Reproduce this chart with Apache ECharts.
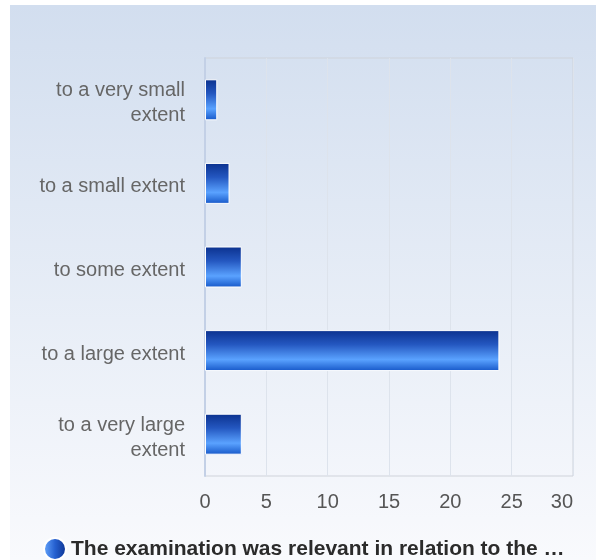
<!DOCTYPE html>
<html><head><meta charset="utf-8">
<script src="https://cdn.jsdelivr.net/npm/echarts@6/dist/echarts.min.js"></script>
<style>html,body{margin:0;padding:0;background:#fff}#c{width:596px;height:560px}</style>
</head><body><div id="c"></div>
<script>
var categories = ['to a very small\nextent', 'to a small extent', 'to some extent', 'to a large extent', 'to a very large\nextent'];
var values = [1, 2, 3, 24, 3];
var xTicks = [0, 5, 10, 15, 20, 25, 30];
var seriesName = 'The examination was relevant in relation to the \u2026';

var chart = echarts.init(document.getElementById('c'));
var barGrad = new echarts.graphic.LinearGradient(0, 0, 0, 1, [
  {offset: 0, color: '#0b318e'},
  {offset: 0.35, color: '#2457c0'},
  {offset: 0.72, color: '#5aa2ff'},
  {offset: 1, color: '#1657c8'}
]);
chart.setOption({
  animation: false,
  graphic: [{
    type: 'rect', z: -10, silent: true,
    shape: {x: 10, y: 5, width: 586, height: 555},
    style: {fill: new echarts.graphic.LinearGradient(0, 0, 0, 1, [
      {offset: 0, color: '#d2deef'},
      {offset: 1, color: '#f9fafd'}
    ])}
  }],
  grid: {left: 205, right: 23, top: 58, bottom: 84, show: true, borderColor: '#cfd3da', borderWidth: 1, backgroundColor: 'transparent'},
  legend: {
    top: 532, left: 38,
    icon: 'circle', itemWidth: 22, itemHeight: 22, itemGap: 6,
    textStyle: {fontFamily: 'Liberation Sans, Arial', fontSize: 21, fontWeight: 'bold', color: '#2b2b2b'},
    data: [{name: seriesName, itemStyle: {color: new echarts.graphic.LinearGradient(0, 0, 1, 0, [
      {offset: 0, color: '#6aaaff'}, {offset: 0.5, color: '#2560d0'}, {offset: 1, color: '#0b318e'}
    ])}}]
  },
  xAxis: {
    type: 'value', min: 0, max: 30, interval: 5,
    axisLine: {show: false}, axisTick: {show: false},
    splitLine: {lineStyle: {color: '#dde3ec', width: 1}},
    axisLabel: {color: '#555', fontSize: 20, fontFamily: 'Liberation Sans, Arial', margin: 16,
      alignMaxLabel: 'right',
      formatter: function (v) { return xTicks.indexOf(v) >= 0 ? String(v) : ''; }
    }
  },
  yAxis: {
    type: 'category', data: categories, inverse: true,
    axisLine: {show: true, lineStyle: {color: '#c3d0e6', width: 2}},
    axisTick: {show: false},
    axisLabel: {color: '#666', fontSize: 20, fontFamily: 'Liberation Sans, Arial', margin: 20, align: 'right',
      formatter: function (v) { return v.split('\n').map(function (s) { return '{a|' + s + '}'; }).join('\n'); },
      rich: {a: {color: '#666', fontSize: 20, fontFamily: 'Liberation Sans, Arial', lineHeight: 25, padding: [7, 0, 0, 0]}}
    }
  },
  series: [{
    name: seriesName, type: 'bar', data: values, barWidth: '49%',
    itemStyle: {color: barGrad, borderColor: '#ffffff', borderWidth: 1}
  }]
});
</script></body></html>
